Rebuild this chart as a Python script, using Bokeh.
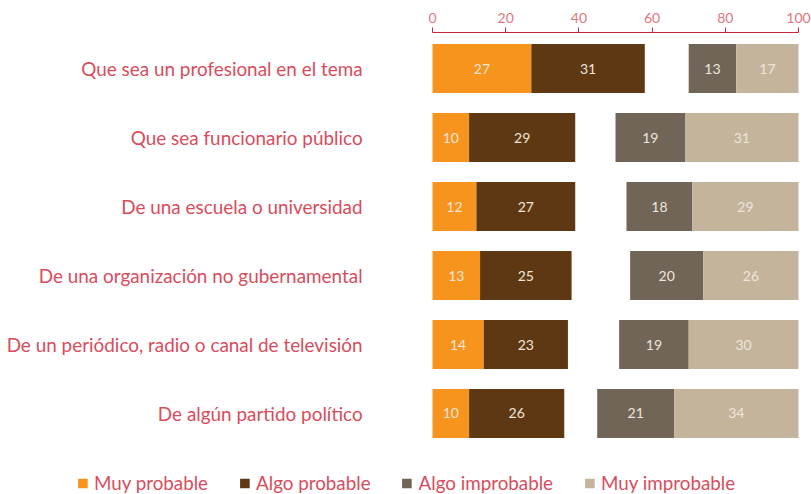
import numpy as np
from bokeh.plotting import figure
from bokeh.models import Range1d, FixedTicker, Legend, LegendItem
from bokeh.core.properties import value
from bokeh.embed import file_html
from bokeh.resources import INLINE

categories = [
    "Que sea un profesional en el tema",
    "Que sea funcionario público",
    "De una escuela o universidad",
    "De una organización no gubernamental",
    "De un periódico, radio o canal de televisión",
    "De algún partido político",
]
muy_probable = [27, 10, 12, 13, 14, 10]
algo_probable = [31, 29, 27, 25, 23, 26]
algo_improbable = [13, 19, 18, 20, 19, 21]
muy_improbable = [17, 31, 29, 26, 30, 34]
series_names = ["Muy probable", "Algo probable", "Algo improbable", "Muy improbable"]
colors = ["#F7941D", "#5E3812", "#716557", "#C4B49C"]
ticks = [0, 20, 40, 60, 80, 100]

FONT = "Lato"
RED = "#D94C5C"

mp = np.array(muy_probable, dtype=float)
ap = np.array(algo_probable, dtype=float)
ai = np.array(algo_improbable, dtype=float)
mi = np.array(muy_improbable, dtype=float)
rows = np.arange(len(categories))

segments = [
    (np.zeros_like(mp), mp),
    (mp, mp + ap),
    (100 - mi - ai, 100 - mi),
    (100 - mi, np.full_like(mi, 100)),
]
vals = [mp, ap, ai, mi]

p = figure(width=811, height=494,
           x_range=Range1d(-118.03, 103.55), y_range=Range1d(6.174, -0.522),
           x_axis_location="above", y_axis_location=None,
           output_backend="svg", toolbar_location=None, min_border=0)
p.min_border_top = 32
p.xgrid.visible = False
p.ygrid.visible = False
p.outline_line_color = None

ax = p.xaxis[0]
ax.bounds = (0, 100)
ax.ticker = FixedTicker(ticks=ticks)
ax.axis_line_color = "#C8283C"
ax.major_tick_line_color = "#C8283C"
ax.major_tick_out = 5
ax.major_tick_in = 0
ax.minor_tick_line_color = None
ax.major_label_text_color = "#E07680"
ax.major_label_text_font = FONT
ax.major_label_text_font_size = "14px"
ax.major_label_standoff = 5

renderers = []
for (l, r), c, v in zip(segments, colors, vals):
    rr = p.hbar(y=rows, left=l, right=r, height=0.71, fill_color=c, line_color=None)
    renderers.append(rr)
    p.text(x=(l + r) / 2, y=rows, text=[str(int(x)) for x in v],
           text_align="center", text_baseline="middle", text_color="#EEE6DC",
           text_font_size="14px", text_font=value(FONT))

p.text(x=np.full(len(categories), -19.1), y=rows, text=categories,
       text_align="right", text_baseline="middle", text_color=RED,
       text_font_size="18.9px", text_font=value(FONT))

legend = Legend(items=[LegendItem(label=n, renderers=[r]) for n, r in zip(series_names, renderers)],
                orientation="horizontal", location="bottom_center",
                border_line_color=None, background_fill_alpha=0,
                label_text_font=FONT, label_text_font_size="18.8px", label_text_color=RED,
                glyph_width=12, glyph_height=12, spacing=30, label_standoff=6,
                padding=0, margin=0)
p.add_layout(legend, "center")

open("out.html", "w").write(file_html(p, INLINE))
